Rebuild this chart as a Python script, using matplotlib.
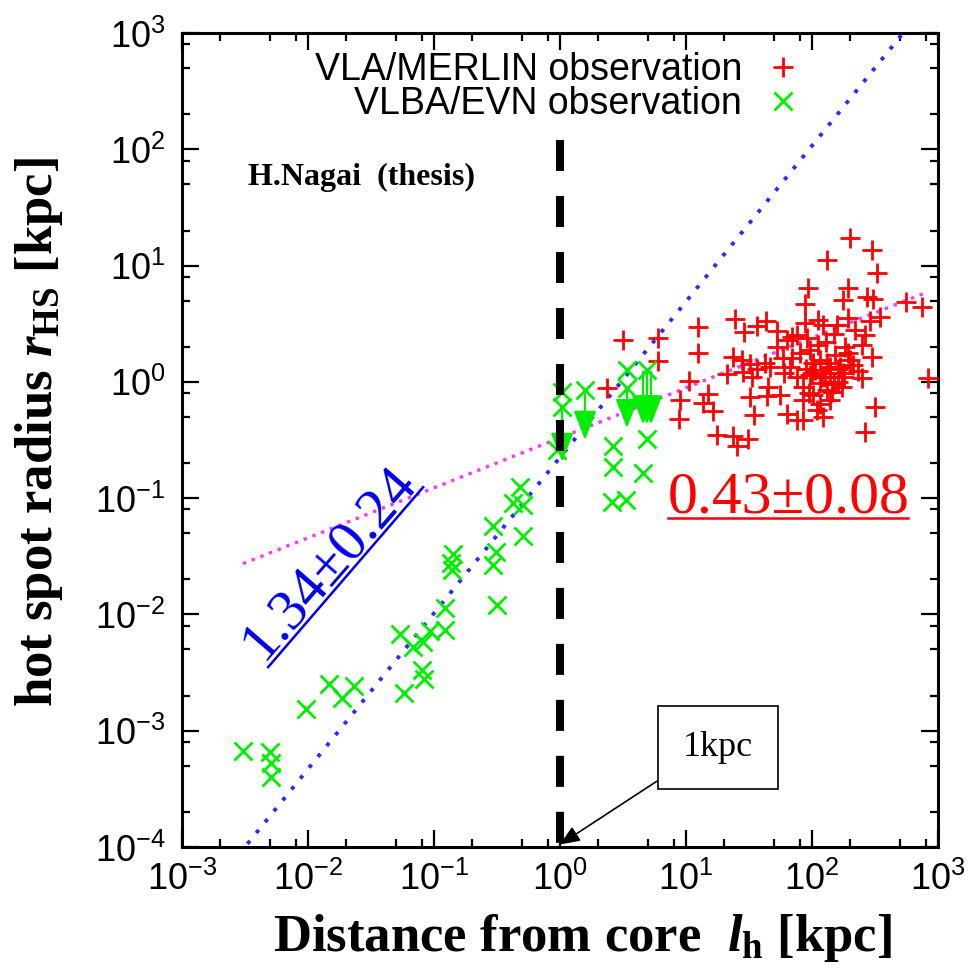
import numpy as np
import matplotlib.pyplot as plt
from matplotlib.ticker import LogLocator, FuncFormatter, NullFormatter

plt.rcParams['mathtext.fontset'] = 'custom'
plt.rcParams['mathtext.rm'] = 'Liberation Serif:bold'
plt.rcParams['mathtext.it'] = 'Liberation Serif:italic:bold'
plt.rcParams['mathtext.sf'] = 'Liberation Sans'

# VLA/MERLIN hot spots: distance from core [kpc], radius [kpc]
vla_l = [2.36, 3.16, 6.0, 6.0, 12.5, 12.5, 10.6, 8.96, 8.8, 14.9,
         13.6, 16.4, 17.6, 23.6, 25.4, 31.0, 24.5, 28.9, 36.6, 43.1,
         52.7, 23.6, 27.8, 32.2, 36.6, 42.4, 46.4, 33.4, 28.3, 21.1,
         32.2, 43.9, 55.7, 34.6, 63.4, 76.0, 66.9, 76.0, 84.8, 52.7,
         63.4, 76.0, 88.0, 88.0, 93.0, 131, 200, 299, 328, 193,
         273, 305, 176, 557, 746, 112, 193, 347, 289, 264,
         158, 122, 91.2, 249, 299, 183, 193, 96.4, 116, 139,
         167, 106, 96.4, 127, 176, 161, 249, 116, 144, 173,
         110, 122, 84.8, 316, 264, 833, 102, 131, 80.4, 69.4,
         131, 102, 212, 152, 112, 219, 58.9, 139, 84.8,
         90, 100, 120, 140, 150, 160, 180, 230, 70, 60,
         130, 150, 95, 115, 200, 45]
vla_r = [0.89, 2.30, 2.39, 1.52, 2.97, 1.78, 1.02, 0.70, 0.48, 0.79,
         0.66, 0.56, 0.35, 0.34, 0.28, 0.32, 3.48, 2.69, 3.03, 3.35,
         2.75, 1.64, 1.55, 1.43, 1.29, 1.46, 1.35, 1.10, 1.22, 1.17,
         0.74, 0.76, 0.77, 0.52, 0.53, 0.47, 1.35, 1.10, 0.91, 2.0,
         2.30, 2.54, 3.22, 4.69, 6.44, 11.2, 17.3, 13.7, 8.66, 6.44,
         5.39, 5.18, 5.08, 4.88, 4.42, 3.42, 3.55, 3.62, 3.35, 2.54,
         3.09, 3.09, 2.39, 2.08, 1.64, 2.0, 1.78, 1.88, 1.55, 1.35,
         1.35, 1.27, 1.15, 1.10, 1.19, 1.0, 1.08, 0.98, 0.82, 0.91,
         0.57, 0.50, 0.47, 0.61, 0.37, 1.08, 1.46, 1.46, 1.78, 2.44,
         0.85, 0.77, 1.40, 1.71, 2.08, 2.80, 1.61, 0.70, 0.70,
         1.3, 1.2, 1.1, 1.2, 0.95, 1.3, 1.1, 1.25, 1.6, 1.2,
         2.2, 2.6, 0.8, 0.65, 1.55, 0.9]

# VLBA/EVN hot spots
vlba_l = [0.00305, 0.00499, 0.0051, 0.0051, 0.0096, 0.0147, 0.0186, 0.0232,
          0.0537, 0.0578, 0.0681, 0.0818, 0.0803, 0.0833, 0.0929, 0.122,
          0.122, 0.1415, 0.136, 0.139, 0.294, 0.310, 0.294, 0.316,
          0.482, 0.424, 0.508, 0.508, 0.947, 1.04, 1.04, 1.58,
          3.40, 3.40, 4.90, 2.63, 2.63, 4.90, 4.56, 2.59, 3.34]
vlba_r = [6.7e-4, 6.6e-4, 5.3e-4, 4.0e-4, 1.54e-3, 2.5e-3, 1.9e-3, 2.4e-3,
          6.8e-3, 2.1e-3, 5.2e-3, 5.8e-3, 3.3e-3, 2.8e-3, 7.2e-3, 7.4e-3,
          0.0114, 0.0331, 0.0277, 0.0241, 0.0577, 0.0345, 0.0267, 0.0121,
          0.125, 0.091, 0.0875, 0.0473, 0.26, 0.82, 0.61, 0.85,
          1.27, 0.89, 1.27, 0.281, 0.186, 0.323, 0.165, 0.093, 0.0966]

# VLBA/EVN upper limits: distance, limit value, arrow tip
lim_l = [1.04, 1.58, 3.40, 4.56, 4.90, 5.28]
lim_top = [0.61, 0.85, 0.89, 1.22, 1.27, 1.22]
lim_tip = [0.205, 0.317, 0.40, 0.43, 0.43, 0.43]

# power-law fits r = norm * l**slope
slope_small, norm_small = 1.34, 0.224
slope_large, norm_large = 0.43, 0.33

red = '#ff0000'
green = '#00ee00'

fig = plt.figure(figsize=(9.71, 9.73), dpi=100)
ax = fig.add_axes([0.1874, 0.1295, 0.7786, 0.8366])

ax.plot(vla_l, vla_r, linestyle='none', marker='+', ms=15, mew=2.0,
        color=red, label='VLA/MERLIN observation', zorder=3)
ax.plot(vlba_l, vlba_r, linestyle='none', marker='x', ms=13, mew=2.0,
        color=green, label='VLBA/EVN observation', zorder=3)

for l, top, tip in zip(lim_l, lim_top, lim_tip):
    ax.annotate('', xy=(l, tip), xytext=(l, top),
                arrowprops=dict(arrowstyle='-|>,head_length=0.9,head_width=0.35',
                                mutation_scale=20, color=green, lw=1.6,
                                shrinkA=0, shrinkB=0), zorder=3)

ll = np.logspace(-2.55, 2.75, 300)
ax.plot(ll, norm_small * ll**slope_small, color='#2a2aff', lw=2.8,
        linestyle=(0, (1, 2.6)), zorder=2)
lm = np.logspace(np.log10(0.00305), np.log10(833), 300)
ax.plot(lm, norm_large * lm**slope_large, color='#ff33ff', lw=2.4,
        linestyle=(0, (1, 1.8)), zorder=2)

# 1 kpc boundary
ax.plot([1, 1], [120, 1e-4], color='black', lw=5.8, dashes=[3.85, 3.1], zorder=4)

ax.set_xscale('log')
ax.set_yscale('log')
ax.set_xlim(1e-3, 1e3)
ax.set_ylim(1e-4, 1e3)

for axis in (ax.xaxis, ax.yaxis):
    axis.set_major_locator(LogLocator(base=10, numticks=20))
    axis.set_minor_locator(LogLocator(base=10, subs=[2, 5, 8], numticks=20))
    axis.set_minor_formatter(NullFormatter())
    axis.set_major_formatter(FuncFormatter(
        lambda v, p: r'$\mathsf{10^{%d}}$' % round(np.log10(v))))

ax.tick_params(which='both', direction='in', top=True, right=True,
               width=1.6, colors='black', labelsize=26)
ax.tick_params(which='major', length=12)
ax.tick_params(which='minor', length=6)
ax.tick_params(axis='x', pad=10)
ax.tick_params(axis='y', pad=12)
for s in ax.spines.values():
    s.set_linewidth(2.2)

ax.set_xlabel(r'Distance from core  $l_{\mathrm{h}}$ [kpc]', family='Liberation Serif',
              fontweight='bold', fontsize=38)
ax.xaxis.set_label_coords(0.530, -0.080)
ax.set_ylabel(r'hot spot radius $r_{\mathrm{HS}}$ [kpc]', family='Liberation Serif',
              fontweight='bold', fontsize=38)
ax.yaxis.set_label_coords(-0.155, 0.51)

leg = ax.legend(loc='upper right', bbox_to_anchor=(0.85, 1.0), frameon=False,
                markerfirst=False, fontsize=27, handlelength=1.2,
                handletextpad=0.5, labelspacing=-0.05, borderaxespad=0.1)
for t in leg.get_texts():
    t.set_family('Liberation Sans')

ax.text(0.087, 0.822, 'H.Nagai  (thesis)', transform=ax.transAxes,
        family='Liberation Serif', fontweight='bold', fontsize=23,
        ha='left', va='center')

ax.text(0.643, 0.4115, u'0.43\u00b10.08', transform=ax.transAxes,
        family='Liberation Serif', fontsize=43, color=red,
        ha='left', va='baseline')
ax.plot([0.643, 0.960], [0.404, 0.404], transform=ax.transAxes,
        color=red, lw=1.8, clip_on=False)

ax.text(0.209, 0.338, u'1.34\u00b10.24', transform=ax.transAxes,
        family='Liberation Serif', fontsize=42, color='#0000ee',
        rotation=49, rotation_mode='anchor', ha='center', va='baseline')
ax.plot([0.114, 0.319], [0.221, 0.442], transform=ax.transAxes,
        color='#0000ee', lw=1.8)

ax.annotate('1kpc', xy=(1.0, 1.05e-4), xytext=(0.709, 0.122),
            textcoords='axes fraction', family='Liberation Serif', fontsize=26,
            ha='center', va='center',
            bbox=dict(boxstyle='square,pad=0.7', fc='white', ec='black', lw=1.2),
            arrowprops=dict(arrowstyle='-|>,head_length=0.6,head_width=0.25',
                            mutation_scale=20, color='black', lw=1.2,
                            relpos=(0, 0), shrinkA=0, shrinkB=0))

fig.savefig('out.png', dpi=100)
